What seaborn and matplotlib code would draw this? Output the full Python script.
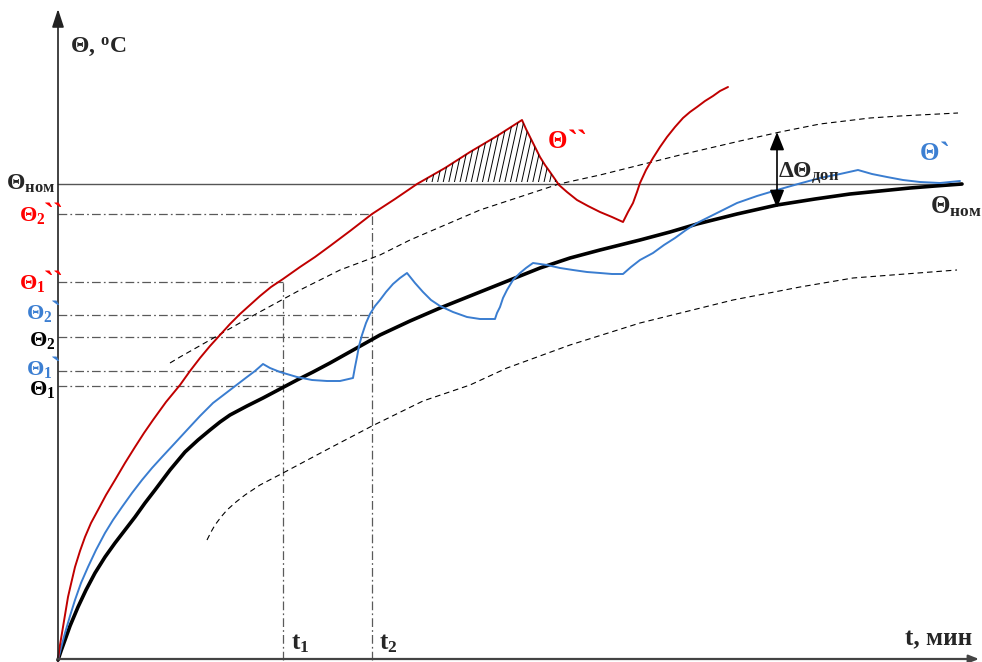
import numpy as np
import pandas as pd
import matplotlib.pyplot as plt
import seaborn as sns
from matplotlib.patches import Polygon

# ==============================================================================
# DATA (t in schematic units from the origin, theta in the same units upward)
# ==============================================================================
# nominal heating curve (thick black)
black_t = [0, 3, 7, 12, 20, 28, 37, 47, 57, 67, 77, 87, 97, 112, 127, 140, 152, 162, 172,
           189, 205, 222, 239, 255, 272, 297, 322, 352, 382, 407, 432, 457, 482, 512, 542,
           562, 582, 612, 639, 679, 719, 757, 792, 822, 852, 877, 904]
black_theta = [0, 9, 20, 34, 53, 70, 87, 103, 117, 130, 143, 157, 170, 190, 208, 220, 230,
               238, 245, 254, 262, 271, 280, 288, 297, 311, 325, 339, 352, 362, 372, 382,
               392, 402, 410, 415, 420, 428, 436, 446, 455, 461, 466, 469, 472, 474, 476]

# Θ` curve (blue)
blue_t = [0, 3, 7, 12, 17, 23, 30, 38, 47, 55, 64, 74, 84, 94, 104, 117, 129, 142, 155, 172,
          189, 197, 205, 212, 222, 239, 254, 269, 282, 295, 297, 299, 301, 304, 308, 312,
          317, 322, 328, 335, 342, 349, 353, 357, 365, 373, 382, 395, 409, 422, 437, 439,
          442, 445, 449, 455, 462, 468, 475, 489, 502, 515, 529, 542, 554, 565, 573, 582,
          595, 606, 617, 628, 639, 659, 679, 699, 719, 740, 762, 782, 800, 807, 814, 829,
          845, 862, 882, 902]
blue_theta = [0, 12, 27, 44, 60, 77, 93, 110, 127, 140, 153, 167, 180, 192, 203, 217, 230,
              244, 257, 270, 283, 289, 296, 292, 288, 283, 280, 279, 279, 282, 293, 303, 314,
              325, 337, 346, 354, 360, 368, 376, 382, 387, 382, 377, 368, 360, 354, 348, 343,
              341, 341, 347, 353, 362, 370, 380, 387, 392, 397, 395, 392, 390, 388, 387, 386,
              386, 393, 400, 407, 415, 422, 430, 437, 447, 457, 464, 470, 476, 482, 486, 490,
              488, 486, 483, 480, 478, 477, 479]

# Θ`` curve (red)
red_t = [0, 1, 2, 3, 4, 7, 10, 13, 17, 22, 27, 33, 40, 48, 57, 67, 77, 86, 95, 108, 122,
         132, 142, 152, 162, 172, 182, 192, 202, 213, 225, 242, 257, 272, 292, 314, 337,
         359, 387, 412, 439, 464, 468, 472, 477, 482, 487, 492, 501, 509, 519, 530, 542,
         554, 565, 570, 575, 579, 582, 588, 595, 602, 609, 617, 625, 632, 639, 647, 655,
         662, 670]
red_theta = [0, 8, 15, 21, 27, 45, 63, 76, 93, 109, 123, 137, 150, 165, 180, 197, 213, 227,
             240, 258, 275, 289, 302, 314, 325, 336, 346, 355, 364, 373, 381, 393, 403, 414,
             429, 446, 461, 476, 492, 508, 524, 540, 531, 523, 513, 503, 495, 488, 475, 468,
             460, 454, 448, 443, 438, 448, 457, 468, 477, 490, 502, 513, 523, 533, 542, 548,
             553, 559, 564, 569, 573]

# upper / lower dashed bounds
upper_t = [112, 122, 152, 187, 242, 282, 322, 352, 422, 501, 542, 622, 682, 722, 762, 812, 842, 900]
upper_theta = [297, 303, 320, 340, 370, 390, 405, 420, 450, 476, 485, 505, 519, 528, 536, 542, 544, 547]
lower_t = [149, 153, 157, 163, 169, 178, 187, 202, 225, 272, 314, 365, 412, 449, 512, 582, 675, 742, 795, 899]
lower_theta = [120, 128, 135, 143, 150, 158, 165, 175, 187, 212, 234, 259, 275, 292, 315, 337, 360, 373, 382, 390]

theta_nom = 476
t1, t2 = 225, 314
# (main label, primes, level, colour key, end time)
levels = [
    (r'$\mathbf{Θ}_{\mathbf{2}}$', '``', 446, 'red', t2),
    (r'$\mathbf{Θ}_{\mathbf{1}}$', '``', 378, 'red', t1),
    (r'$\mathbf{Θ}_{\mathbf{2}}$', '`', 345, 'blue', t2),
    (r'$\mathbf{Θ}_{\mathbf{2}}$', '', 323, 'black', t2),
    (r'$\mathbf{Θ}_{\mathbf{1}}$', '`', 289, 'blue', t1),
    (r'$\mathbf{Θ}_{\mathbf{1}}$', '', 274, 'black', t1),
]

# ==============================================================================
# STYLE
# ==============================================================================
RED_LINE = '#c00000'
RED_TXT = '#ff0000'
BLUE_LINE = '#3a7dd0'
BLUE_TXT = '#3c7fd2'
GRID_GREY = '#5a5a5a'
TXT = {'red': RED_TXT, 'blue': BLUE_TXT, 'black': 'black'}
LABEL_RIGHT = {'red': -13, 'blue': -6, 'black': -3}
LABEL_DROP = {'red': 7, 'blue': 4, 'black': 9}

sns.set_theme(style='white')
plt.rcParams['font.family'] = ['Liberation Serif', 'DejaVu Serif']
plt.rcParams['mathtext.fontset'] = 'custom'
plt.rcParams['mathtext.rm'] = 'Liberation Serif'
plt.rcParams['mathtext.bf'] = 'Liberation Serif:bold'
plt.rcParams['mathtext.it'] = 'Liberation Serif:italic'

fig = plt.figure(figsize=(9.82, 6.62), dpi=100)
ax = fig.add_axes([0, 0, 1, 1])
ax.set_xlim(-58, 924)
ax.set_ylim(-2, 660)
ax.axis('off')


def primes(txt, marks, color, dx=-1, dy=2):
    # backtick marks hung on the top-right corner of a label
    ax.annotate(marks, xy=(1, 1), xycoords=txt, xytext=(dx, dy), textcoords='offset points',
                fontsize=22, fontweight='bold', color=color, ha='left', va='top')


# axes with arrows
ax.annotate('', xy=(0, 651), xytext=(0, -2),
            arrowprops=dict(arrowstyle='-|>,head_length=0.55,head_width=0.18',
                            mutation_scale=20, color='#222222', lw=1.2,
                            shrinkA=0, shrinkB=0))
ax.annotate('', xy=(921, 1), xytext=(0, 1),
            arrowprops=dict(arrowstyle='-|>,head_length=0.3,head_width=0.12',
                            mutation_scale=20, color='#444444', lw=1.6,
                            shrinkA=0, shrinkB=0))

# nominal level
ax.plot([0, 904], [theta_nom, theta_nom], color='#555555', lw=1.0)

# dash-dot guides
dd = (0, (7, 2.5, 1.4, 2.5))
for lab, pr, lev, key, tend in levels:
    ax.plot([0, tend], [lev, lev], color=GRID_GREY, lw=0.9, linestyle=dd)
ax.plot([t1, t1], [0, 378], color=GRID_GREY, lw=0.9, linestyle=dd)
ax.plot([t2, t2], [0, 446], color=GRID_GREY, lw=0.9, linestyle=dd)

# dashed bounds
sns.lineplot(x=upper_t, y=upper_theta, sort=False, estimator=None, color='black',
             lw=0.8, linestyle=(0, (5, 3.5)), ax=ax)
sns.lineplot(x=lower_t, y=lower_theta, sort=False, estimator=None, color='black',
             lw=0.8, linestyle=(0, (5, 3.5)), ax=ax)

# curves
sns.lineplot(x=black_t, y=black_theta, sort=False, estimator=None, color='black',
             lw=2.6, ax=ax)
sns.lineplot(x=blue_t, y=blue_theta, sort=False, estimator=None, color=BLUE_LINE,
             lw=1.4, ax=ax)
sns.lineplot(x=red_t, y=red_theta, sort=False, estimator=None, color=RED_LINE,
             lw=1.4, ax=ax)

# hatched overshoot area above nominal
red = pd.DataFrame({'t': red_t, 'th': red_theta})
seg = red[(red.t >= 359) & (red.t <= 501)]
poly_pts = list(zip(seg.t, seg.th)) + [(501, theta_nom + 2), (359, theta_nom + 2)]
clip = Polygon(poly_pts, closed=True, fill=False, edgecolor='none')
ax.add_patch(clip)
for x0 in np.arange(368, 520, 5.6):
    ln, = ax.plot([x0, x0 + 22], [theta_nom, theta_nom + 100], color='black', lw=0.7)
    ln.set_clip_path(clip)

# labels
ax.text(12, 607, 'Θ, $^{\\mathbf{o}}$C', fontsize=17, fontweight='bold',
        va='baseline', ha='left')
ax.text(-3, 470, r'$\mathbf{Θ}_{\mathbf{ном}}$', fontsize=17, va='baseline', ha='right')
for lab, pr, lev, key, tend in levels:
    tx = ax.text(LABEL_RIGHT[key], lev - LABEL_DROP[key], lab, fontsize=16,
                 va='baseline', ha='right', color=TXT[key])
    if pr:
        primes(tx, pr, TXT[key])

tr = ax.text(490, 512, 'Θ', fontsize=18, fontweight='bold', color=RED_TXT, va='baseline')
primes(tr, '``', RED_TXT, dx=0, dy=1)
tb = ax.text(862, 500, 'Θ', fontsize=18, fontweight='bold', color=BLUE_TXT, va='baseline')
primes(tb, '`', BLUE_TXT, dx=0, dy=1)
ax.text(872, 447, r'$\mathbf{Θ}_{\mathbf{ном}}$', fontsize=18, va='baseline')
ax.text(720, 482, r'$\mathbf{ΔΘ}_{\mathbf{доп}}$', fontsize=17, va='baseline')
ax.text(t1 + 8, 11, r'$\mathbf{t}_{\mathbf{1}}$', fontsize=18, va='baseline')
ax.text(t2 + 7, 11, r'$\mathbf{t}_{\mathbf{2}}$', fontsize=18, va='baseline')
ax.text(847, 15, 't, мин', fontsize=18, fontweight='bold', va='baseline')

# allowed deviation double arrow
ax.annotate('', xy=(719, 452), xytext=(719, 528),
            arrowprops=dict(arrowstyle='<|-|>,head_length=0.55,head_width=0.22',
                            mutation_scale=20, color='black', lw=1.2,
                            shrinkA=0, shrinkB=0))

plt.savefig('out.png', dpi=100)
